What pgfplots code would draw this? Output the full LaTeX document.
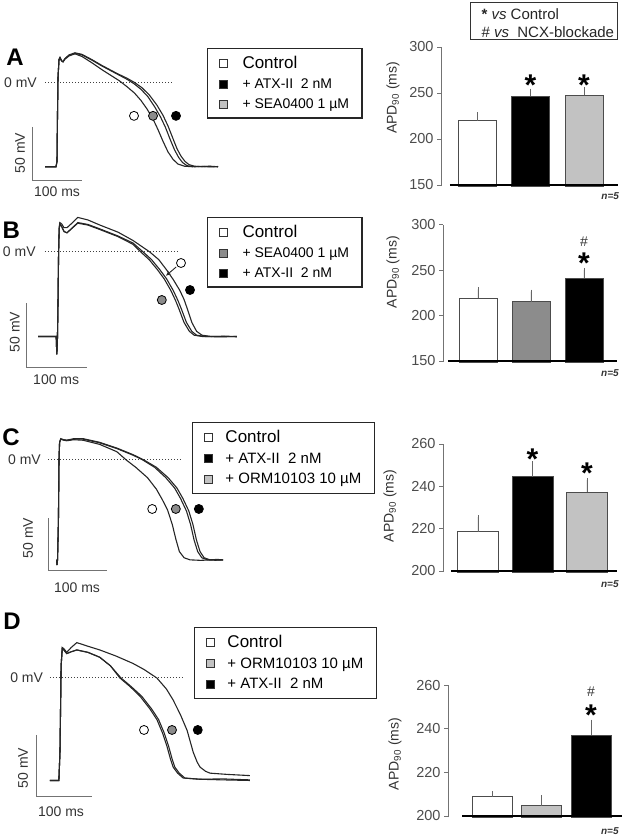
\documentclass[border=0pt]{standalone}
\usepackage{pgfplots}
\pgfplotsset{compat=1.18}
\usepackage{fontspec}
\setmainfont{Liberation Sans}
\usetikzlibrary{arrows.meta}
\newcommand{\fs}[1]{\fontsize{#1}{#1}\selectfont}
\definecolor{lgray}{gray}{0.76}
\definecolor{mgray}{gray}{0.55}

\tikzset{
  lbl/.style={font=\fs{14}, text=black!80, inner sep=0pt},
  star/.style={anchor=north, inner sep=0pt, font=\fs{30}\bfseries},
  hash/.style={anchor=north, inner sep=0pt, font=\fs{14}, text=black!80},
  nfive/.style={inner sep=0pt, font=\fs{10}\itshape\bfseries, text=black!80},
}
\pgfplotsset{
  trace/.style={hide axis, clip=false, anchor=south west,
    legend cell align=left,
    legend style={draw=black!85, line width=1.2pt, font=\fs{14}, anchor=north west,
      inner xsep=11pt, inner ysep=6pt, row sep=4.5pt,
      /tikz/every odd column/.style={column sep=13pt}}},
  ap/.style={black!85, line width=1.1pt, no markers},
  sq/.style={legend image code/.code={\draw[fill=#1, draw=black!80, line width=0.9pt] (0pt,-4pt) rectangle (8pt,4pt);}},
  zero/.style={black!75, dotted, line width=1pt, no markers, forget plot},
  sbar/.style={black!55, line width=0.9pt, no markers, forget plot},
  circ/.style={only marks, mark=*, mark size=4.5pt, mark options={draw=black, line width=0.8pt, fill=#1}, forget plot},
  barax/.style={axis x line=none, axis y line*=left, clip mode=individual, anchor=south west,
    y axis line style={black!55, line width=0.9pt, -},
    ytick style={black!55, line width=0.9pt},
    tick align=outside, major tick length=4pt,
    yticklabel style={font=\fs{14.5}, text=black!70},
    /pgf/number format/assume math mode=true},
  bar/.style={ybar, bar shift=0pt, draw=black!70, line width=0.8pt, fill=#1,
    /pgfplots/error bars/y dir=plus, /pgfplots/error bars/y explicit,
    /pgfplots/error bars/error bar style={black!60, line width=0.8pt},
    /pgfplots/error bars/error mark options={black!60, mark size=2pt, line width=0.8pt}},
  base/.style={black, line width=2.5pt, no markers},
}

\begin{document}
\begin{tikzpicture}
\path[use as bounding box] (0pt,0pt) rectangle (629pt,836pt);

% ================= Panel A trace =================
\begin{axis}[trace, at={(0pt,636pt)}, x=0.5pt, y=1.06pt,
  xmin=-114, xmax=626, ymin=-110.38, ymax=78.30,
  legend style={at={(0.5595,0.76)}}]
\addplot[zero] coordinates {(-24,0) (230,0)};
\addplot[sbar] coordinates {(-50,-41.5) (-50,-91.5) (50,-91.5)};
\addplot[ap, sq=white] coordinates {(-24,-79) (-2,-79) (0,-74) (1,-30) (2,5) (4,22) (6,24) (9,21) (12,20) (16,22.5) (24,25.5) (36,27.5) (50,25) (70,19) (90,12.5) (110,6.5) (125,2) (140,-3.5) (155,-9.5) (168,-16.5) (180,-24.5) (192,-34) (202,-44) (212,-55) (222,-65) (232,-72) (242,-76.5) (255,-78.5) (270,-79) (290,-78.6) (305,-79.2) (322,-78.8)};
\addlegendentry{\fs{17}Control}
\addplot[ap, sq=black] coordinates {(-24,-79) (-2,-79) (0,-74) (1,-30) (2,5) (4,22) (6,24) (9,21) (12,20) (16,23) (24,26.5) (36,28.5) (50,27) (70,22) (90,16.5) (120,9) (140,4.5) (155,0.5) (170,-4.5) (185,-11.5) (200,-21) (212,-30.5) (222,-40.5) (232,-52.5) (240,-62) (248,-69) (256,-74) (264,-77) (275,-78.5) (290,-79) (305,-78.5) (322,-79)};
\addlegendentry{+ ATX-II\ \ 2 nM}
\addplot[ap, sq=lgray] coordinates {(-24,-79) (-2,-79) (0,-74) (1,-30) (2,5) (4,22) (6,24) (9,21) (12,20) (16,23) (24,26) (36,28) (50,26.5) (70,21.5) (90,16) (120,8.5) (140,3.5) (155,-1) (168,-6) (182,-13) (196,-23) (207,-32) (217,-42) (227,-54) (235,-63) (243,-70) (251,-75) (260,-78) (275,-79) (300,-78.7) (322,-79)};
\addlegendentry{+ SEA0400 1 µM}
\addplot[circ=white] coordinates {(154,-31)};
\addplot[circ=mgray] coordinates {(192,-31)};
\addplot[circ=black] coordinates {(238,-31)};
\node[font=\fs{24}\bfseries, inner sep=0pt] at (axis cs:-84,24.5) {A};
\node[lbl, anchor=east] at (axis cs:-40,0) {0 mV};
\node[lbl, rotate=90] at (axis cs:-74,-66) {50 mV};
\node[lbl] at (axis cs:0,-103) {100 ms};
\end{axis}

% ================= Panel A bars =================
\begin{axis}[barax, at={(441pt,649.75pt)}, x=53.5pt, y=0.92pt,
  xmin=-0.673, xmax=2.65, ymin=148.64, ymax=300, ytick={150,200,250,300}]
\addplot[bar=white, bar width=38pt] coordinates {(0,220) +- (0,7)};
\addplot[bar=black, bar width=38pt] coordinates {(1,246.5) +- (0,6)};
\addplot[bar=lgray, bar width=38pt] coordinates {(2,247.5) +- (0,7)};
\addplot[base] coordinates {(-0.505,150) (2.64,150)};
\node[star] at (axis cs:1,270) {*};
\node[star] at (axis cs:2,270) {*};
\node[nfive] at (axis cs:2.49,138) {n=5};
\node[lbl, rotate=90] at (axis cs:-1.570,244.6) {APD\textsubscript{90} (ms)};
\end{axis}

% top-right legend
\draw[black!80, line width=1pt] (470pt,796pt) rectangle (617pt,833pt);
\node[anchor=west, font=\fs{15}, text=black!85] at (478pt,822pt) {{\fs{15}\bfseries *}~\textit{vs} Control};
\node[anchor=west, font=\fs{15}, text=black!85] at (478pt,804pt) {\#~\textit{vs}~~NCX-blockade};

% ================= Panel B trace =================
\begin{axis}[trace, at={(0pt,436pt)}, x=0.6pt, y=1.28pt,
  xmin=-96.67, xmax=520, ymin=-115.625, ymax=40.625,
  legend style={at={(0.5595,0.915)}}]
\addplot[zero] coordinates {(-22,0) (200,0)};
\addplot[sbar] coordinates {(-52,-40) (-52,-90) (48,-90)};
\addplot[ap, sq=white] coordinates {(-33,-66) (-3,-66) (-2,-80) (-1,-70) (0,-40) (1,0) (2,18) (3,22) (6,20) (10,16) (15,15) (22,18) (33,23) (50,21.5) (70,18) (100,12.5) (125,7) (142,0) (156,-6) (170,-14) (181,-21) (192,-30) (200,-38) (206,-45) (214,-55) (223,-62) (231,-65) (245,-66) (270,-66.3) (298,-66)};
\addlegendentry{\fs{17}Control}
\addplot[ap, sq=mgray] coordinates {(-33,-66) (-3,-66) (-2,-80) (-1,-70) (0,-40) (1,0) (2,18) (3,22) (6,20) (10,16) (15,15) (22,18) (33,22.5) (50,21) (70,17.5) (100,12) (125,6) (138,0) (152,-6) (166,-14) (177,-21) (188,-30) (196,-38) (202,-45) (210,-55) (219,-62) (227,-65) (240,-66) (270,-66) (298,-66.2)};
\addlegendentry{+ SEA0400 1 µM}
\addplot[ap, sq=black] coordinates {(-33,-66) (-3,-66) (-2,-80) (-1,-70) (0,-40) (1,0) (2,19) (3,23) (6,22) (10,19) (15,19) (22,22) (33,27) (50,25) (70,21) (100,15.5) (125,9) (153,0) (168,-6) (181,-14) (192,-21.5) (203,-30) (210,-37) (216,-45) (223,-55) (231,-62) (240,-65) (255,-66) (280,-65.8) (298,-66)};
\addlegendentry{+ ATX-II\ \ 2 nM}
\addplot[circ=white] coordinates {(205,-8.6)};
\addplot[circ=mgray] coordinates {(173,-37.5)};
\addplot[circ=black] coordinates {(220,-29.7)};
\addplot[black!85, line width=0.9pt, -{Stealth[length=5pt,width=4pt]}, no markers, forget plot] coordinates {(197,-11.7) (180,-18.5)};
\node[font=\fs{24}\bfseries, inner sep=0pt] at (axis cs:-78,17) {B};
\node[lbl, anchor=east] at (axis cs:-37,0) {0 mV};
\node[lbl, rotate=90] at (axis cs:-72,-62.5) {50 mV};
\node[lbl] at (axis cs:-3,-100) {100 ms};
\end{axis}

% ================= Panel B bars =================
\begin{axis}[barax, at={(443pt,473.75pt)}, x=53pt, y=0.907pt,
  xmin=-0.66, xmax=2.64, ymin=148.62, ymax=300, ytick={150,200,250,300}]
\addplot[bar=white, bar width=38pt] coordinates {(0,219) +- (0,10)};
\addplot[bar=mgray, bar width=38pt] coordinates {(1,215.5) +- (0,11)};
\addplot[bar=black, bar width=38pt] coordinates {(2,241) +- (0,9.5)};
\addplot[base] coordinates {(-0.57,150) (2.62,150)};
\node[star] at (axis cs:2,269) {*};
\node[hash] at (axis cs:2,287) {\#};
\node[nfive] at (axis cs:2.49,136.8) {n=5};
\node[lbl, rotate=90] at (axis cs:-1.603,248) {APD\textsubscript{90} (ms)};
\end{axis}

% ================= Panel C trace =================
\begin{axis}[trace, at={(0pt,226pt)}, x=0.59pt, y=1.04pt,
  xmin=-100, xmax=527.12, ymin=-144.23, ymax=48.077,
  legend style={at={(0.5189,0.94)}, font=\fs{15}, /tikz/every odd column/.style={column sep=11pt}}]
\addplot[zero] coordinates {(-18.6,0) (208.5,0)};
\addplot[sbar] coordinates {(-18.6,-55.8) (-18.6,-105.8) (81.4,-105.8)};
\addplot[ap, sq=white] coordinates {(-4,-96) (-3.5,-101) (-2.5,-96) (-1,-60) (0,0) (1,17) (3,20) (8,19) (13,18.5) (25,19.5) (41,19) (69,15) (98,8) (114,0) (130,-7) (150,-17) (165,-28) (175,-38) (184,-48) (192,-62) (198,-76) (204,-88) (212,-94) (222,-96) (240,-96.5) (260,-96) (278,-96.3)};
\addlegendentry{\fs{17}Control}
\addplot[ap, sq=black] coordinates {(-4,-96) (-3.5,-101) (-2.5,-96) (-1,-60) (0,0) (1,17) (3,20.5) (8,19.5) (13,19) (25,20.5) (41,20.5) (69,17) (98,11.5) (126,5) (144,0) (165,-7) (185,-17) (200,-27) (210,-37) (220,-49) (227,-62) (233,-77) (239,-88) (246,-94) (256,-96) (268,-95.6) (278,-96)};
\addlegendentry{+ ATX-II\ \ 2 nM}
\addplot[ap, sq=lgray] coordinates {(-4,-96) (-3.5,-101) (-2.5,-96) (-1,-60) (0,0) (1,17) (3,20) (8,19.5) (13,19) (25,20) (41,20) (69,16.5) (98,11) (126,4.5) (142,0) (162,-7) (181,-17) (196,-27) (206,-37) (216,-49) (223,-62) (229,-77) (235,-88) (242,-94) (252,-96) (265,-96.4) (278,-96)};
\addlegendentry{+ ORM10103 10 µM}
\addplot[circ=white] coordinates {(158,-47.1)};
\addplot[circ=mgray] coordinates {(198,-47.1)};
\addplot[circ=black] coordinates {(237,-47.1)};
\node[font=\fs{24}\bfseries, inner sep=0pt] at (axis cs:-81.4,22) {C};
\node[lbl, anchor=east] at (axis cs:-30.5,0) {0 mV};
\node[lbl, rotate=90] at (axis cs:-52.5,-75) {50 mV};
\node[lbl] at (axis cs:30.5,-123) {100 ms};
\end{axis}

% ================= Panel C bars =================
\begin{axis}[barax, at={(443pt,263.75pt)}, x=54.5pt, y=2.117pt,
  xmin=-0.642, xmax=2.6, ymin=199.41, ymax=260, ytick={200,220,240,260}]
\addplot[bar=white, bar width=41pt] coordinates {(0,218.5) +- (0,7)};
\addplot[bar=black, bar width=41pt] coordinates {(1,244.5) +- (0,6.5)};
\addplot[bar=lgray, bar width=41pt] coordinates {(2,237.3) +- (0,5.7)};
\addplot[base] coordinates {(-0.495,200) (2.55,200)};
\node[star] at (axis cs:1,258) {*};
\node[star] at (axis cs:2,251) {*};
\node[nfive] at (axis cs:2.42,193.9) {n=5};
\node[lbl, rotate=90] at (axis cs:-1.614,230.7) {APD\textsubscript{90} (ms)};
\end{axis}

% ================= Panel D trace =================
\begin{axis}[trace, at={(0pt,0pt)}, x=0.56pt, y=1.22pt,
  xmin=-107.14, xmax=553.57, ymin=-129.51, ymax=50.82,
  legend style={at={(0.5243,0.95)}, font=\fs{15}, /tikz/every odd column/.style={column sep=11pt}}]
\addplot[zero] coordinates {(-17.9,0) (219.6,0)};
\addplot[sbar] coordinates {(-42.9,-46.7) (-42.9,-96.7) (57.1,-96.7)};
\addplot[ap, sq=white] coordinates {(-18,-84) (-2,-84) (0,-60) (2,10) (4,24) (7,23) (12,20) (20,21.5) (30,23) (50,21) (71,17) (90,10) (107,0) (125,-7) (143,-15) (160,-25) (173,-34) (183,-45) (191,-56) (197,-66) (202,-73) (210,-78) (220,-82) (250,-83) (290,-83.5) (339,-84)};
\addlegendentry{\fs{17}Control}
\addplot[ap, sq=lgray] coordinates {(-18,-84) (-2,-84) (0,-60) (2,10) (4,24) (7,23) (12,20) (20,21.5) (30,23) (50,21) (71,17) (90,10) (109,0) (127,-7) (146,-15) (163,-25) (176,-34) (186,-45) (194,-56) (200,-66) (205,-73) (213,-78) (223,-82) (250,-83) (290,-82.7) (339,-83.5)};
\addlegendentry{+ ORM10103 10 µM}
\addplot[ap, sq=black] coordinates {(-18,-84) (-2,-84) (0,-60) (2,10) (4,25) (7,24) (12,21) (20,25) (30,29) (50,26) (71,23) (100,18) (130,12) (150,7) (173,0) (190,-9) (202,-18) (215,-30) (227,-43) (238,-61) (245,-69) (250,-73) (260,-76.5) (268,-78) (298,-79) (339,-80)};
\addlegendentry{+ ATX-II\ \ 2 nM}
\addplot[circ=white] coordinates {(150,-42.6)};
\addplot[circ=mgray] coordinates {(200,-42.6)};
\addplot[circ=black] coordinates {(246,-42.6)};
\node[font=\fs{24}\bfseries, inner sep=0pt] at (axis cs:-85.7,46.7) {D};
\node[lbl, anchor=east] at (axis cs:-30,0) {0 mV};
\node[lbl, rotate=90] at (axis cs:-66,-73.8) {50 mV};
\node[lbl] at (axis cs:1.8,-109.8) {100 ms};
\end{axis}

% ================= Panel D bars =================
\begin{axis}[barax, at={(448pt,18.75pt)}, x=49.5pt, y=2.183pt,
  xmin=-0.889, xmax=2.65, ymin=199.43, ymax=260, ytick={200,220,240,260}]
\addplot[bar=white, bar width=40pt] coordinates {(0,208.8) +- (0,1.6)};
\addplot[bar=lgray, bar width=40pt] coordinates {(1,204.7) +- (0,3.9)};
\addplot[bar=black, bar width=40pt] coordinates {(2,237.1) +- (0,6.1)};
\addplot[base] coordinates {(-0.606,200) (2.63,200)};
\node[star] at (axis cs:2,250.8) {*};
\node[hash] at (axis cs:2,259) {\#};
\node[nfive] at (axis cs:2.38,193.1) {n=5};
\node[lbl, rotate=90] at (axis cs:-1.96,228.4) {APD\textsubscript{90} (ms)};
\end{axis}
\end{tikzpicture}
\end{document}
